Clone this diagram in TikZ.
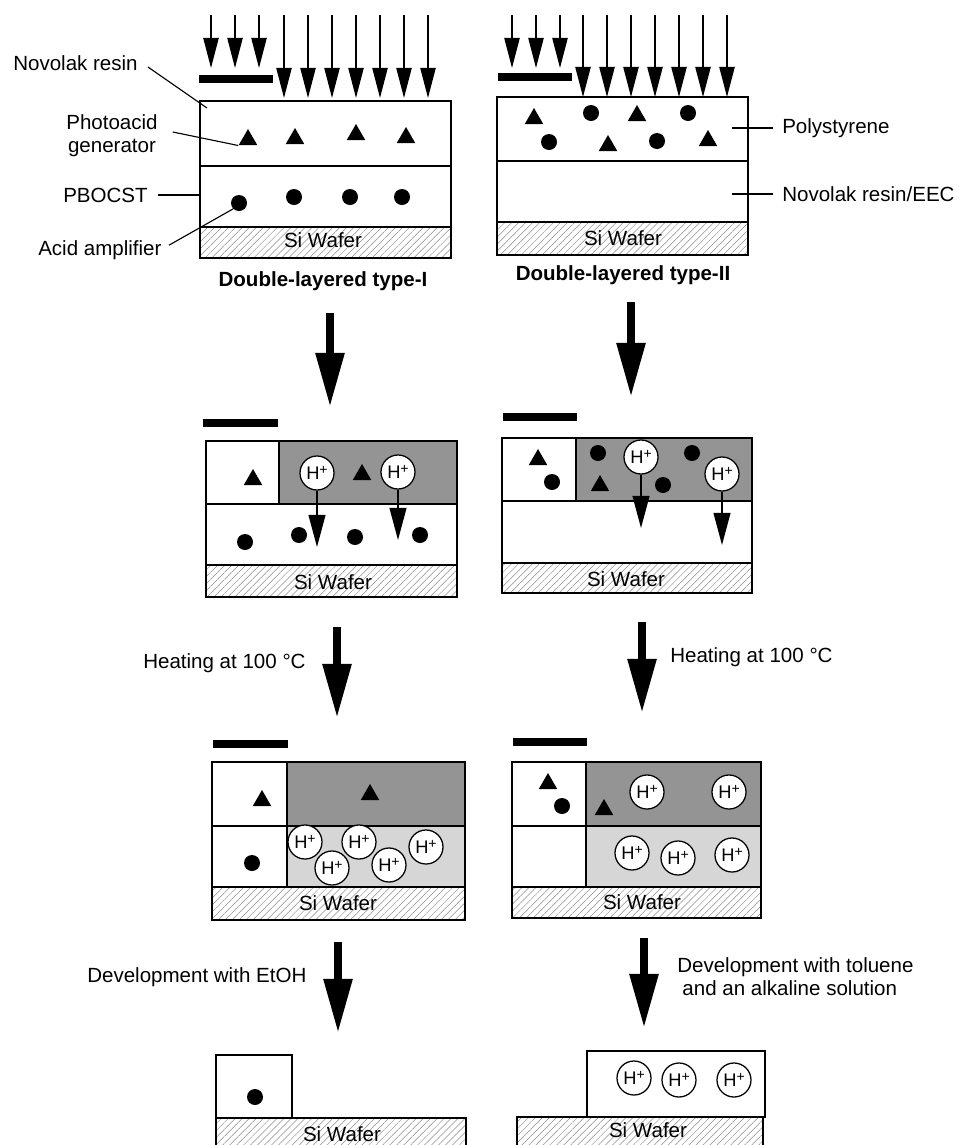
\documentclass[tikz,border=0pt]{standalone}
\usepackage{fontspec}
\setmainfont{Liberation Sans}
\usetikzlibrary{arrows.meta,shapes.geometric,patterns.meta}
\newcommand{\hplus}{H\raisebox{0.55ex}{\fontsize{10}{10}\selectfont+}}

\begin{document}
\begin{tikzpicture}[x=0.025cm,y=-0.025cm,
  lbl/.style={font=\fontsize{14.6}{16.4}\selectfont,inner sep=0},
  ttl/.style={font=\fontsize{14.6}{16.4}\selectfont\bfseries,inner sep=0},
  layer/.style={draw,line width=1pt},
  wafer/.style={draw,line width=1pt,pattern={Lines[angle=45,distance=3.5pt,line width=0.35pt]},pattern color=black!45},
  dark/.style={fill=black!42},
  light/.style={fill=black!16},
  lead/.style={line width=0.8pt},
  mask/.style={line width=1.9mm},
  ray/.style={line width=1.1pt,-{Triangle[length=7.5mm,width=3.8mm]}},
  drift/.style={line width=1.1pt,-{Triangle[length=8mm,width=4.2mm]}},
  bigarr/.style={line width=2mm,-{Triangle[length=13.5mm,width=6.8mm]}},
  pag/.style={regular polygon,regular polygon sides=3,fill=black,inner sep=0,minimum size=5.4mm,yshift=-0.7mm},
  amp/.style={circle,fill=black,inner sep=0,minimum size=4mm},
  hion/.style={circle,draw,line width=0.9pt,fill=white,inner sep=0,minimum size=8.5mm,font=\fontsize{13}{13}\selectfont}]
  \useasboundingbox (0,0) rectangle (959,1145);
  \clip (0,0) rectangle (959,1145);

  % exposure
  \foreach \x [count=\i] in {211,235,259} {
    \coordinate (srcA\i) at (\x,15); \coordinate (hitA\i) at (\x,68);
    \draw[ray] (srcA\i) -- (hitA\i);}
  \foreach \x [count=\i] in {284,308,332,356,380,404,428} {
    \coordinate (srcB\i) at (\x,15); \coordinate (hitB\i) at (\x,98);
    \draw[ray] (srcB\i) -- (hitB\i);}
  \foreach \x [count=\i] in {512,536,560} {
    \coordinate (srcC\i) at (\x,15); \coordinate (hitC\i) at (\x,68);
    \draw[ray] (srcC\i) -- (hitC\i);}
  \foreach \x [count=\i] in {583,607,631,655,679,703,727} {
    \coordinate (srcD\i) at (\x,15); \coordinate (hitD\i) at (\x,97);
    \draw[ray] (srcD\i) -- (hitD\i);}
  \draw[mask] (199,79) -- (273,79);
  \draw[mask] (498,77) -- (572,77);

  % type-I
  \draw[layer] (200,101) rectangle (451,227);
  \draw[layer] (200,166) -- (451,166);
  \draw[wafer] (200,227) rectangle (451,258);
  \node[lbl] at (323,240) {Si Wafer};
  \node[ttl] at (323,281) {Double-layered type-I};
  \foreach \x/\y [count=\i] in {248/137,295/136,356/132,406/135} \node[pag] (tA\i) at (\x,\y) {};
  \foreach \x/\y [count=\i] in {239/203,294/197,350/197,402/197} \node[amp] (cA\i) at (\x,\y) {};
  \node[lbl,anchor=west] (novolak) at (13,63) {Novolak resin};
  \node[lbl,align=center] (pagtxt) at (112,136) {Photoacid\\generator};
  \node[lbl,anchor=west] (pbocst) at (63,195) {PBOCST};
  \node[lbl,anchor=west] (amptxt) at (38,250) {Acid amplifier};
  \coordinate (novolakpt) at (207,108);
  \coordinate (pbocstpt) at (200,195);
  \draw[lead] ([xshift=2.5mm,yshift=-1mm]novolak.east) -- (novolakpt);
  \draw[lead] ([xshift=3.7mm,yshift=1mm]pagtxt.east) -- (tA1.corner 2);
  \draw[lead] ([xshift=2.5mm]pbocst.east) -- (pbocstpt);
  \draw[lead] ([xshift=1.8mm,yshift=1.2mm]amptxt.east) -- (cA1.south west);

  % type-II
  \draw[layer] (497,97) rectangle (748,222);
  \draw[layer] (497,161) -- (748,161);
  \draw[wafer] (497,222) rectangle (748,255);
  \node[lbl] at (623,238) {Si Wafer};
  \node[ttl] at (623,275) {Double-layered type-II};
  \foreach \x/\y [count=\i] in {534/116,637/113,608/143,708/138} \node[pag] (tB\i) at (\x,\y) {};
  \foreach \x/\y [count=\i] in {591/113,688/113,549/142,657/141} \node[amp] (cB\i) at (\x,\y) {};
  \node[lbl,anchor=west] (poly) at (782,128) {Polystyrene};
  \node[lbl,anchor=west] (novoeec) at (782,194) {Novolak resin/EEC};
  \coordinate (polypt) at (732,128);
  \coordinate (novoeecpt) at (732,194);
  \draw[lead] (polypt) -- ([xshift=-2.2mm]poly.west);
  \draw[lead] (novoeecpt) -- ([xshift=-2.2mm]novoeec.west);

  % step arrows
  \foreach \n/\x/\ya/\yb in {a/330/313/407,b/631/302/397,c/337/627/718,d/642/622/713,e/338/942/1033,f/644/938/1028} {
    \coordinate (go\n) at (\x,\ya); \coordinate (stop\n) at (\x,\yb);
    \draw[bigarr] (go\n) -- (stop\n);}
  \node[lbl,anchor=west] (heatL) at (143,663) {Heating at 100 °C};
  \node[lbl,anchor=west] (heatR) at (670,657) {Heating at 100 °C};
  \node[lbl,anchor=west] (devL) at (87,977) {Development with EtOH};
  \node[lbl,anchor=west,align=left] (devR) at (677,977) {Development with toluene\\\hspace*{1.3mm}and an alkaline solution};

  % exposed type-I
  \draw[mask] (203,423) -- (278,423);
  \fill[dark] (279,441) rectangle (457,504);
  \draw[layer] (206,441) rectangle (457,565);
  \draw[layer] (206,504) -- (457,504);
  \draw[layer] (279,441) -- (279,504);
  \draw[wafer] (206,565) rectangle (457,597);
  \node[lbl] at (333,582) {Si Wafer};
  \foreach \x/\y [count=\i] in {253/477,362/472} \node[pag] (tC\i) at (\x,\y) {};
  \foreach \x/\y [count=\i] in {245/542,299/535,355/537,420/535} \node[amp] (cC\i) at (\x,\y) {};
  \node[hion] (hC1) at (317,473) {\hplus};
  \node[hion] (hC2) at (398,472) {\hplus};
  \coordinate (hC1end) at (317,547);
  \coordinate (hC2end) at (398,540);
  \draw[drift] (hC1) -- (hC1end);
  \draw[drift] (hC2) -- (hC2end);

  % exposed type-II
  \draw[mask] (503,417) -- (577,417);
  \fill[dark] (576,438) rectangle (752,501);
  \draw[layer] (502,438) rectangle (752,563);
  \draw[layer] (502,501) -- (752,501);
  \draw[layer] (576,438) -- (576,501);
  \draw[wafer] (502,563) rectangle (752,593);
  \node[lbl] at (626,579) {Si Wafer};
  \foreach \x/\y [count=\i] in {538/457,600/483} \node[pag] (tD\i) at (\x,\y) {};
  \foreach \x/\y [count=\i] in {552/482,598/453,692/453,663/485} \node[amp] (cD\i) at (\x,\y) {};
  \node[hion] (hD1) at (641,457) {\hplus};
  \node[hion] (hD2) at (722,474) {\hplus};
  \coordinate (hD1end) at (641,528);
  \coordinate (hD2end) at (722,545);
  \draw[drift] (hD1) -- (hD1end);
  \draw[drift] (hD2) -- (hD2end);

  % heated type-I
  \draw[mask] (213,744) -- (288,744);
  \fill[dark] (287,762) rectangle (465,826);
  \fill[light] (287,826) rectangle (465,887);
  \draw[layer] (212,762) rectangle (465,887);
  \draw[layer] (212,826) -- (465,826);
  \draw[layer] (287,762) -- (287,887);
  \draw[wafer] (212,887) rectangle (465,920);
  \node[lbl] at (338,903) {Si Wafer};
  \foreach \x/\y [count=\i] in {262/798,370/792} \node[pag] (tE\i) at (\x,\y) {};
  \node[amp] (cE1) at (252,863) {};
  \foreach \x/\y [count=\i] in {305/842,359/842,426/847,332/868,389/865} \node[hion] (hE\i) at (\x,\y) {\hplus};

  % heated type-II
  \draw[mask] (513,742) -- (587,742);
  \fill[dark] (586,762) rectangle (761,826);
  \fill[light] (586,826) rectangle (761,887);
  \draw[layer] (512,762) rectangle (761,887);
  \draw[layer] (512,826) -- (761,826);
  \draw[layer] (586,762) -- (586,887);
  \draw[wafer] (512,887) rectangle (761,918);
  \node[lbl] at (642,902) {Si Wafer};
  \foreach \x/\y [count=\i] in {548/781,604/807} \node[pag] (tF\i) at (\x,\y) {};
  \node[amp] (cF1) at (562,806) {};
  \foreach \x/\y [count=\i] in {647/792,729/792,632/853,678/858,732/855} \node[hion] (hF\i) at (\x,\y) {\hplus};

  % developed
  \draw[layer] (216,1055) rectangle (292,1118);
  \draw[wafer] (216,1118) rectangle (466,1160);
  \node[lbl] at (342,1134) {Si Wafer};
  \node[amp] (cG1) at (255,1097) {};
  \draw[wafer] (517,1117) rectangle (763,1160);
  \draw[layer,fill=white] (587,1051) rectangle (765,1117);
  \node[lbl] at (648,1130) {Si Wafer};
  \foreach \x/\y [count=\i] in {634/1078,679/1080,734/1080} \node[hion] (hH\i) at (\x,\y) {\hplus};
\end{tikzpicture}
\end{document}
